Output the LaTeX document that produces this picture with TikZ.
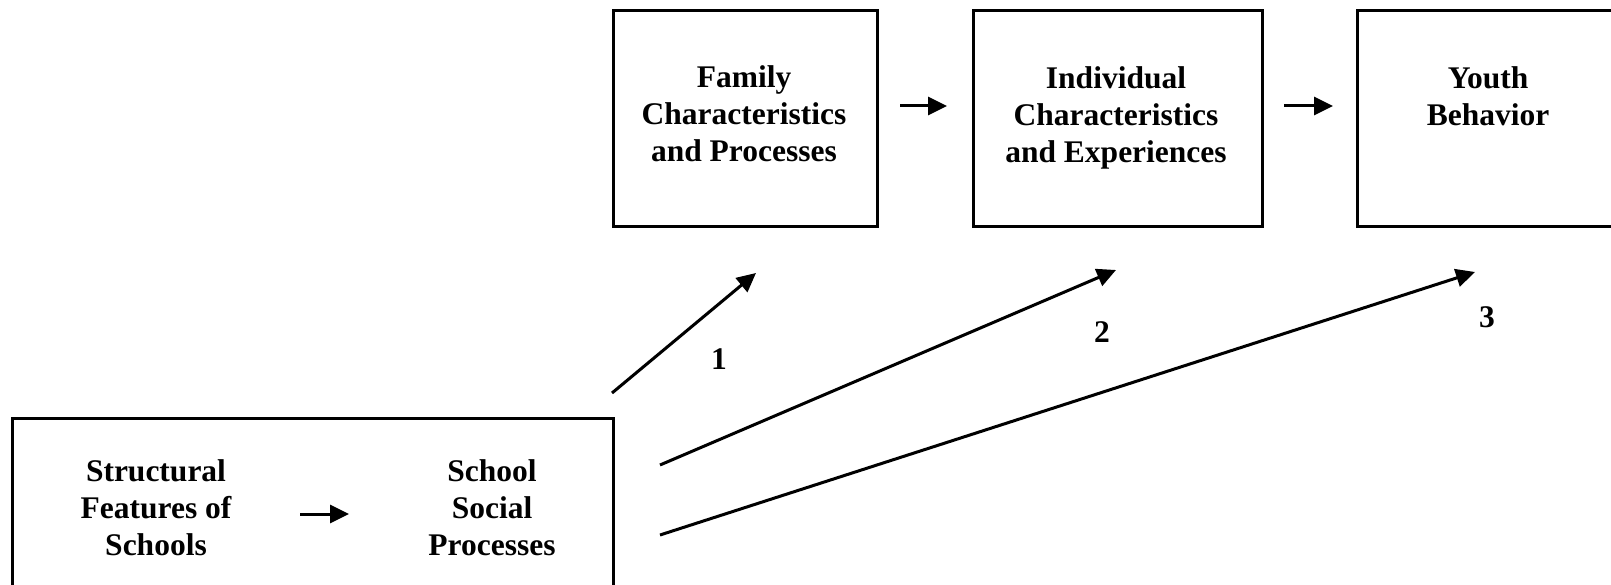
\documentclass[tikz,border=0pt]{standalone}
\usepackage{fontspec}
\setmainfont{Liberation Serif}
\usetikzlibrary{arrows.meta}
\begin{document}
\begin{tikzpicture}[x=1pt,y=-1pt,
 box/.style={draw, line width=2.8pt, inner sep=0pt, anchor=north west},
 lbl/.style={font=\fontsize{31.5}{37}\selectfont\bfseries, align=center, inner sep=0pt},
 num/.style={font=\fontsize{31.5}{37}\selectfont\bfseries, inner sep=0pt},
 arr/.style={line width=3pt, -{Triangle[length=19pt,width=18pt]}}]
\useasboundingbox (0,0) rectangle (1611,585);
% boxes
\node[box, minimum width=264pt, minimum height=216pt] (family) at (612,9) {};
\node[box, minimum width=289pt, minimum height=216pt] (indiv) at (972,9) {};
\node[box, minimum width=269pt, minimum height=216pt] (youth) at (1356,9) {};
\node[box, minimum width=601pt, minimum height=173pt] (school) at (11,417) {};
% texts
\node[lbl] (familyT) at (744,114) {Family\\Characteristics\\and Processes};
\node[lbl] (indivT) at (1116,118) {Individual\\Characteristics\\and Experiences};
\node[lbl] (youthT) at (1488,96) {Youth\\Behavior};
\node[lbl] (structT) at (156,508) {Structural\\Features of\\Schools};
\node[lbl] (procT) at (492,508) {School\\Social\\Processes};
% connector end points
\coordinate (a1s) at (300,514); \coordinate (a1e) at (349,514);
\coordinate (a2s) at (900,106); \coordinate (a2e) at (947,106);
\coordinate (a3s) at (1284,106); \coordinate (a3e) at (1333,106);
\coordinate (d1s) at (612,393); \coordinate (d1e) at (756,273);
\coordinate (d2s) at (660,465); \coordinate (d2e) at (1116,270);
\coordinate (d3s) at (660,535); \coordinate (d3e) at (1475,272);
\draw[arr] (a1s) -- (a1e);
\draw[arr] (a2s) -- (a2e);
\draw[arr] (a3s) -- (a3e);
\draw[arr] (d1s) -- (d1e);
\draw[arr] (d2s) -- (d2e);
\draw[arr] (d3s) -- (d3e);
% numbers
\node[num] (n1) at (719,359) {1};
\node[num] (n2) at (1102,332) {2};
\node[num] (n3) at (1487,317) {3};
\end{tikzpicture}
\end{document}
